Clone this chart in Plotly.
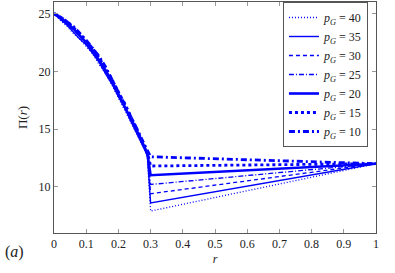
import plotly.graph_objects as go

r = [0, 0.02, 0.04, 0.06, 0.08, 0.10, 0.12, 0.14, 0.16, 0.18, 0.20, 0.22, 0.24, 0.26, 0.28, 0.29, 0.30, 1.0]

pi_40 = [25.0, 24.4, 23.9, 23.3, 22.8, 22.1, 21.5, 20.6, 19.8, 18.8, 17.7, 16.6, 15.6, 14.4, 13.3, 12.5, 7.9, 12.0]
pi_35 = [25.0, 24.5, 24.0, 23.4, 22.8, 22.3, 21.5, 20.8, 19.8, 18.9, 17.8, 16.8, 15.6, 14.5, 13.3, 12.7, 8.6, 12.0]
pi_30 = [25.0, 24.6, 24.1, 23.6, 23.0, 22.3, 21.8, 20.9, 20.0, 19.0, 18.0, 16.9, 15.8, 14.6, 13.5, 12.8, 9.4, 12.0]
pi_25 = [25.0, 24.5, 24.1, 23.7, 23.0, 22.5, 21.7, 21.0, 20.0, 19.1, 17.9, 17.0, 15.8, 14.7, 13.4, 12.9, 10.2, 12.0]
pi_20 = [25.0, 24.6, 24.2, 23.7, 23.1, 22.5, 21.8, 21.0, 20.1, 19.1, 18.0, 17.0, 15.9, 14.7, 13.5, 12.9, 11.0, 12.0]
pi_15 = [25.0, 24.7, 24.3, 23.8, 23.3, 22.6, 22.0, 21.2, 20.3, 19.3, 18.2, 17.2, 16.0, 14.8, 13.6, 13.0, 11.8, 12.0]
pi_10 = [25.0, 24.7, 24.3, 23.9, 23.3, 22.7, 22.0, 21.3, 20.4, 19.3, 18.3, 17.2, 16.1, 14.9, 13.7, 13.1, 12.6, 12.0]

pG_labels = [40, 35, 30, 25, 20, 15, 10]
series = [pi_40, pi_35, pi_30, pi_25, pi_20, pi_15, pi_10]
styles = [
    dict(width=1.3, dash="1px,2px"),
    dict(width=1.4, dash="solid"),
    dict(width=1.3, dash="4px,3px"),
    dict(width=1.3, dash="5px,2px,1px,2px"),
    dict(width=2.6, dash="solid"),
    dict(width=2.8, dash="3px,3px"),
    dict(width=2.8, dash="6px,3px,2px,3px"),
]

BLUE = "#0000ff"
FONT = "'Liberation Serif', 'DejaVu Serif', serif"

fig = go.Figure()
for lab, ys, st in zip(pG_labels, series, styles):
    fig.add_trace(go.Scatter(
        x=r, y=ys, mode="lines",
        name=f"<i>p</i><sub><i>G</i></sub> = {lab}",
        line=dict(color=BLUE, width=st["width"], dash=st["dash"]),
    ))

axis_common = dict(
    showgrid=False, zeroline=False,
    showline=True, linecolor="#555555", linewidth=1,
    mirror="ticks", ticks="inside", ticklen=4, tickcolor="#999999",
    tickfont=dict(family=FONT, size=12, color="#222222"),
)

fig.update_layout(
    width=395, height=273,
    font=dict(family=FONT, size=12, color="#222222"),
    margin=dict(l=54, r=19, t=2, b=40),
    plot_bgcolor="white", paper_bgcolor="white",
    showlegend=True,
    legend=dict(
        x=0.975, y=1.0, xanchor="right", yanchor="top",
        bordercolor="#555555", borderwidth=1, bgcolor="white",
        font=dict(family=FONT, size=12, color="#222222"),
        tracegroupgap=0, itemwidth=30,
    ),
    xaxis=dict(range=[0, 1], dtick=0.1, **axis_common,
               title=dict(text="<i>r</i>", font=dict(family=FONT, size=12), standoff=4)),
    yaxis=dict(range=[6, 26], dtick=5, **axis_common,
               title=dict(text="Π(<i>r</i>)", font=dict(family=FONT, size=13), standoff=8)),
    annotations=[dict(
        text="(<i>a</i>)", xref="paper", yref="paper",
        x=-0.158, y=-0.082, xanchor="left", yanchor="middle",
        showarrow=False, font=dict(family=FONT, size=16, color="#222222"),
    )],
)

fig.write_html("out.html", config={"displayModeBar": False},
               post_script="document.body.style.margin='0';")
